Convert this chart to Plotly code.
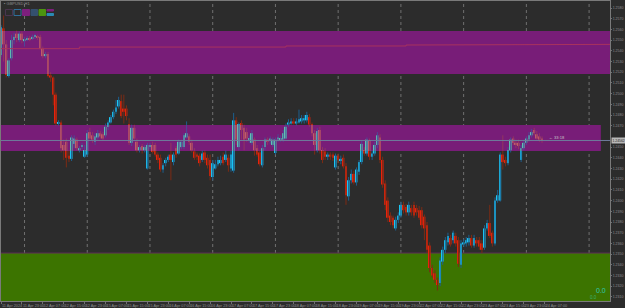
import plotly.graph_objects as go

# ---------------- data (GBPUSD H1) ----------------
opens = [1.2536,1.2561,1.2546,1.2517,1.2533,1.2550,1.2556,1.2550,1.2556,1.2549,
         1.2551,1.2552,1.2551,1.2553,1.2553,1.2553,1.2542,1.2535,1.2537,1.2517,
         1.2515,1.2499,1.2472,1.2473,1.2452,1.2455,1.2442,1.2439,1.2453,1.2457,
         1.2447,1.2450,1.2441,1.2443,1.2464,1.2461,1.2455,1.2459,1.2463,1.2462,
         1.2461,1.2469,1.2473,1.2478,1.2483,1.2488,1.2493,1.2486,1.2486,1.2471,
         1.2454,1.2468,1.2455,1.2447,1.2451,1.2447,1.2430,1.2450,1.2452,1.2452,
         1.2443,1.2440,1.2429,1.2435,1.2438,1.2443,1.2436,1.2449,1.2444,1.2450,
         1.2450,1.2459,1.2460,1.2454,1.2446,1.2443,1.2442,1.2438,1.2445,1.2440,
         1.2438,1.2422,1.2430,1.2434,1.2435,1.2441,1.2438,1.2440,1.2430,1.2428,
         1.2475,1.2450,1.2472,1.2468,1.2464,1.2457,1.2454,1.2457,1.2449,1.2445,
         1.2433,1.2450,1.2457,1.2456,1.2452,1.2445,1.2457,1.2457,1.2457,1.2458,
         1.2471,1.2472,1.2474,1.2472,1.2473,1.2474,1.2475,1.2475,1.2478,1.2471,
         1.2463,1.2447,1.2466,1.2447,1.2446,1.2441,1.2443,1.2443,1.2431,1.2442,
         1.2437,1.2440,1.2432,1.2404,1.2419,1.2425,1.2417,1.2427,1.2436,1.2447,
         1.2444,1.2456,1.2441,1.2444,1.2452,1.2459,1.2438,1.2416,1.2400,1.2386,
         1.2384,1.2374,1.2382,1.2386,1.2396,1.2394,1.2389,1.2393,1.2396,1.2393,
         1.2391,1.2391,1.2385,1.2377,1.2358,1.2337,1.2332,1.2326,1.2323,1.2343,
         1.2354,1.2361,1.2365,1.2363,1.2367,1.2363,1.2340,1.2359,1.2360,1.2361,
         1.2365,1.2358,1.2363,1.2363,1.2360,1.2356,1.2374,1.2379,1.2370,1.2360,
         1.2400,1.2400,1.2443,1.2438,1.2435,1.2447,1.2458,1.2454,1.2454,1.2438,
         1.2449,1.2454,1.2457,1.2461,1.2466,1.2462,1.2460,1.2458]
highs = [1.2564,1.2573,1.2550,1.2533,1.2555,1.2557,1.2559,1.2558,1.2558,1.2553,
         1.2554,1.2554,1.2555,1.2556,1.2555,1.2555,1.2544,1.2539,1.2539,1.2520,
         1.2516,1.2501,1.2475,1.2475,1.2457,1.2458,1.2447,1.2461,1.2461,1.2459,
         1.2451,1.2454,1.2452,1.2466,1.2468,1.2464,1.2463,1.2466,1.2465,1.2464,
         1.2472,1.2475,1.2480,1.2485,1.2494,1.2497,1.2499,1.2499,1.2489,1.2477,
         1.2471,1.2471,1.2458,1.2452,1.2453,1.2452,1.2454,1.2454,1.2455,1.2454,
         1.2445,1.2443,1.2435,1.2440,1.2443,1.2454,1.2445,1.2451,1.2457,1.2457,
         1.2463,1.2474,1.2462,1.2457,1.2449,1.2445,1.2444,1.2447,1.2447,1.2443,
         1.2443,1.2438,1.2438,1.2441,1.2442,1.2445,1.2447,1.2443,1.2447,1.2482,
         1.2478,1.2473,1.2475,1.2471,1.2468,1.2461,1.2466,1.2459,1.2452,1.2447,
         1.2452,1.2459,1.2459,1.2460,1.2459,1.2459,1.2462,1.2461,1.2466,1.2472,
         1.2476,1.2477,1.2477,1.2477,1.2485,1.2480,1.2480,1.2483,1.2481,1.2473,
         1.2466,1.2468,1.2469,1.2450,1.2449,1.2445,1.2445,1.2445,1.2444,1.2444,
         1.2442,1.2443,1.2435,1.2422,1.2429,1.2428,1.2431,1.2438,1.2456,1.2450,
         1.2459,1.2458,1.2447,1.2455,1.2464,1.2462,1.2441,1.2419,1.2403,1.2389,
         1.2386,1.2385,1.2389,1.2399,1.2399,1.2397,1.2399,1.2396,1.2399,1.2396,
         1.2395,1.2394,1.2387,1.2380,1.2361,1.2340,1.2335,1.2328,1.2347,1.2357,
         1.2366,1.2370,1.2368,1.2372,1.2370,1.2366,1.2363,1.2364,1.2366,1.2368,
         1.2368,1.2368,1.2366,1.2366,1.2363,1.2377,1.2382,1.2396,1.2372,1.2403,
         1.2410,1.2445,1.2461,1.2441,1.2450,1.2459,1.2460,1.2457,1.2457,1.2452,
         1.2457,1.2460,1.2464,1.2467,1.2468,1.2465,1.2463,1.2460]
lows = [1.2534,1.2530,1.2515,1.2515,1.2531,1.2546,1.2548,1.2548,1.2547,1.2544,
        1.2549,1.2549,1.2550,1.2551,1.2550,1.2541,1.2533,1.2533,1.2515,1.2511,
        1.2489,1.2470,1.2470,1.2445,1.2438,1.2431,1.2436,1.2437,1.2449,1.2447,
        1.2445,1.2448,1.2440,1.2441,1.2457,1.2454,1.2452,1.2457,1.2458,1.2456,
        1.2459,1.2466,1.2472,1.2476,1.2481,1.2486,1.2477,1.2472,1.2475,1.2452,
        1.2451,1.2457,1.2445,1.2445,1.2444,1.2445,1.2429,1.2448,1.2444,1.2441,
        1.2435,1.2427,1.2426,1.2432,1.2436,1.2419,1.2433,1.2440,1.2443,1.2448,
        1.2448,1.2458,1.2452,1.2445,1.2438,1.2438,1.2432,1.2436,1.2435,1.2430,
        1.2419,1.2419,1.2429,1.2432,1.2433,1.2433,1.2436,1.2427,1.2427,1.2426,
        1.2452,1.2447,1.2457,1.2447,1.2455,1.2454,1.2452,1.2442,1.2441,1.2432,
        1.2431,1.2447,1.2452,1.2453,1.2450,1.2443,1.2455,1.2455,1.2455,1.2457,
        1.2469,1.2471,1.2471,1.2470,1.2472,1.2472,1.2472,1.2473,1.2469,1.2460,
        1.2443,1.2445,1.2444,1.2435,1.2438,1.2438,1.2438,1.2437,1.2429,1.2435,
        1.2434,1.2430,1.2396,1.2400,1.2416,1.2415,1.2414,1.2424,1.2434,1.2442,
        1.2442,1.2438,1.2438,1.2442,1.2449,1.2435,1.2412,1.2391,1.2380,1.2377,
        1.2374,1.2372,1.2379,1.2384,1.2388,1.2386,1.2386,1.2386,1.2384,1.2386,
        1.2382,1.2374,1.2363,1.2351,1.2333,1.2328,1.2323,1.2316,1.2320,1.2340,
        1.2351,1.2358,1.2357,1.2360,1.2357,1.2338,1.2337,1.2357,1.2357,1.2358,
        1.2356,1.2356,1.2357,1.2354,1.2351,1.2354,1.2372,1.2365,1.2357,1.2358,
        1.2398,1.2399,1.2429,1.2432,1.2433,1.2445,1.2452,1.2449,1.2448,1.2436,
        1.2447,1.2452,1.2455,1.2459,1.2461,1.2457,1.2455,1.2454]
closes = [1.2562,1.2546,1.2518,1.2531,1.2550,1.2553,1.2552,1.2556,1.2550,1.2551,
          1.2552,1.2551,1.2553,1.2554,1.2552,1.2542,1.2535,1.2537,1.2517,1.2515,
          1.2499,1.2472,1.2473,1.2449,1.2447,1.2440,1.2439,1.2459,1.2458,1.2449,
          1.2449,1.2452,1.2447,1.2463,1.2458,1.2457,1.2460,1.2463,1.2460,1.2458,
          1.2469,1.2473,1.2478,1.2483,1.2487,1.2494,1.2479,1.2483,1.2479,1.2454,
          1.2468,1.2458,1.2447,1.2450,1.2447,1.2450,1.2452,1.2452,1.2446,1.2443,
          1.2438,1.2429,1.2433,1.2438,1.2441,1.2438,1.2443,1.2443,1.2455,1.2455,
          1.2461,1.2463,1.2455,1.2447,1.2440,1.2441,1.2435,1.2444,1.2438,1.2433,
          1.2423,1.2435,1.2434,1.2438,1.2438,1.2435,1.2443,1.2433,1.2443,1.2475,
          1.2457,1.2471,1.2466,1.2457,1.2458,1.2458,1.2463,1.2447,1.2443,1.2434,
          1.2449,1.2457,1.2455,1.2458,1.2457,1.2457,1.2459,1.2458,1.2463,1.2469,
          1.2473,1.2474,1.2472,1.2474,1.2476,1.2477,1.2477,1.2480,1.2471,1.2463,
          1.2452,1.2465,1.2447,1.2438,1.2441,1.2443,1.2441,1.2440,1.2442,1.2438,
          1.2439,1.2432,1.2405,1.2419,1.2425,1.2417,1.2429,1.2436,1.2453,1.2444,
          1.2457,1.2441,1.2444,1.2452,1.2461,1.2438,1.2415,1.2396,1.2384,1.2380,
          1.2377,1.2382,1.2386,1.2396,1.2391,1.2389,1.2396,1.2389,1.2386,1.2389,
          1.2384,1.2377,1.2374,1.2354,1.2337,1.2330,1.2326,1.2321,1.2344,1.2354,
          1.2363,1.2367,1.2359,1.2370,1.2360,1.2341,1.2360,1.2361,1.2363,1.2365,
          1.2358,1.2365,1.2360,1.2357,1.2354,1.2374,1.2379,1.2367,1.2360,1.2400,
          1.2405,1.2443,1.2436,1.2435,1.2447,1.2457,1.2454,1.2452,1.2451,1.2449,
          1.2454,1.2458,1.2461,1.2464,1.2463,1.2458,1.2457,1.2456]

time_tick_slots = [0, 8, 16, 24, 32, 40, 48, 56, 64, 72, 80, 88, 96, 104, 112,
                   120, 128, 136, 144, 152, 160, 168, 176, 184, 192, 200, 208]
time_tick_labels = ["11 Apr 2024", "11 Apr 23:00", "12 Apr 07:00", "12 Apr 15:00",
                    "12 Apr 23:00", "15 Apr 07:00", "15 Apr 15:00", "15 Apr 23:00",
                    "16 Apr 07:00", "16 Apr 15:00", "16 Apr 23:00", "17 Apr 07:00",
                    "17 Apr 15:00", "17 Apr 23:00", "18 Apr 07:00", "18 Apr 15:00",
                    "18 Apr 23:00", "19 Apr 07:00", "19 Apr 15:00", "19 Apr 23:00",
                    "22 Apr 07:00", "22 Apr 15:00", "22 Apr 23:00", "23 Apr 07:00",
                    "23 Apr 15:00", "23 Apr 23:00", "24 Apr 07:00"]
day_start_slots = [9, 33, 57, 81, 105, 129, 153, 177, 201, 225]
price_ticks = [1.2310, 1.2320, 1.2330, 1.2340, 1.2350, 1.2360, 1.2370, 1.2380,
               1.2390, 1.2400, 1.2410, 1.2420, 1.2430, 1.2440, 1.2450,
               1.2470, 1.2480, 1.2490, 1.2500, 1.2510, 1.2520, 1.2530, 1.2540,
               1.2550, 1.2560, 1.2570, 1.2580]
price_tick_labels = ["%.4f" % p for p in price_ticks]

supply_zone_top = (1.25183, 1.25585)
supply_zone_mid = (1.24464, 1.24707)
demand_zone = (1.23061, 1.23510)
mid_zone_end_slot = 229.5
level_slots = [0, 30, 30, 109, 109, 155, 155, 202, 202, 233]
level_prices = [1.25420, 1.25420, 1.25435, 1.25435, 1.25445, 1.25445,
                1.25454, 1.25454, 1.25460, 1.25460]
bid_price = 1.24562

# ---------------- styling ----------------
BG = "#2c2c2c"
BULL, BULL_IN = "#1cc6f2", "#5ec2b2"
BEAR, BEAR_IN = "#e8220c", "#c05a6c"
BULL_WICK, BULL_WICK_IN = "#1d5f8e", "#4d4a96"
BEAR_WICK, BEAR_WICK_IN = "#7d2b14", "#923660"
PURPLE = "#781d78"
GREEN = "#3c7400"
GRID = "#707070"
TXT = "#8c8c8c"
FONT = "Liberation Sans"

X_MIN, X_MAX = 0.0, 233.0
Y_MIN, Y_MAX = 1.230617, 1.258654

purple_zones = [supply_zone_top, supply_zone_mid]


def split(lo, hi):
    pts = [lo, hi] + [z for zn in purple_zones for z in zn if lo < z < hi]
    pts = sorted(set(pts))
    segs = []
    for a, b in zip(pts[:-1], pts[1:]):
        m = (a + b) / 2
        inside = any(z0 <= m <= z1 for z0, z1 in purple_zones)
        segs.append((a, b, inside))
    return segs


bodies = {k: ([], [], []) for k in ("bo", "bi", "ro", "ri")}
wicks = {k: ([], []) for k in ("bo", "bi", "ro", "ri")}
for i, (o, h, l, c) in enumerate(zip(opens, highs, lows, closes)):
    bull = c >= o
    key = "b" if bull else "r"
    for a, b, ins in split(l, h):
        xs, ys = wicks[key + ("i" if ins else "o")]
        xs += [i, i, None]
        ys += [a, b, None]
    lo, hi = min(o, c), max(o, c)
    if hi - lo < 0.00008:
        hi = lo + 0.00008
    for a, b, ins in split(lo, hi):
        xs, bs, hs = bodies[key + ("i" if ins else "o")]
        xs.append(i)
        bs.append(a)
        hs.append(b - a)

fig = go.Figure()

wick_colors = {"bo": BULL_WICK, "bi": BULL_WICK_IN, "ro": BEAR_WICK, "ri": BEAR_WICK_IN}
for k, (xs, ys) in wicks.items():
    fig.add_trace(go.Scatter(x=xs, y=ys, mode="lines",
                             line=dict(color=wick_colors[k], width=1),
                             hoverinfo="skip", showlegend=False))

body_colors = {"bo": BULL, "bi": BULL_IN, "ro": BEAR, "ri": BEAR_IN}
for k, (xs, bs, hs) in bodies.items():
    fig.add_trace(go.Bar(x=xs, y=hs, base=bs, width=0.72,
                         marker=dict(color=body_colors[k], line=dict(width=0)),
                         hoverinfo="skip", showlegend=False))

# stepped level line inside top zone
fig.add_trace(go.Scatter(x=level_slots, y=level_prices, mode="lines",
                         line=dict(color="#a8325e", width=1),
                         hoverinfo="skip", showlegend=False))
# bid line
fig.add_trace(go.Scatter(x=[X_MIN, X_MAX], y=[bid_price, bid_price], mode="lines",
                         line=dict(color="#6f7c9c", width=1),
                         hoverinfo="skip", showlegend=False))

shapes = [
    dict(type="rect", xref="x", yref="y", x0=X_MIN - 1, x1=X_MAX + 1,
         y0=supply_zone_top[0], y1=supply_zone_top[1],
         fillcolor=PURPLE, line=dict(width=0), layer="below"),
    dict(type="rect", xref="x", yref="y", x0=X_MIN - 1, x1=mid_zone_end_slot,
         y0=supply_zone_mid[0], y1=supply_zone_mid[1],
         fillcolor=PURPLE, line=dict(width=0), layer="below"),
    dict(type="rect", xref="x", yref="y", x0=X_MIN - 1, x1=X_MAX + 1,
         y0=demand_zone[0], y1=demand_zone[1],
         fillcolor=GREEN, line=dict(width=0), layer="below"),
    dict(type="line", xref="x", yref="y", x0=X_MIN - 1, x1=X_MAX + 1,
         y0=demand_zone[1], y1=demand_zone[1],
         line=dict(color="#5e2c58", width=1), layer="below"),
]
for s in day_start_slots:
    shapes.append(dict(type="line", xref="x", yref="paper", x0=s, x1=s, y0=0, y1=1,
                       line=dict(color=GRID, width=1, dash="dot"), layer="below"))

# top-left indicator buttons (decorative)
def px_rect(x0, x1, y0, y1, fill, border):
    return dict(type="rect", xref="paper", yref="paper",
                x0=(x0 - 1) / 609, x1=(x1 - 1) / 609,
                y0=(301 - y1) / 300, y1=(301 - y0) / 300,
                fillcolor=fill, line=dict(color=border, width=1), layer="above")

shapes += [
    px_rect(5.5, 12.5, 9.5, 15.5, BG, "#4a3550"),
    px_rect(14, 21, 9.5, 15.5, BG, "#2f6f9a"),
    px_rect(22.5, 29.5, 9.5, 15.5, "#7d1f7d", "#7d1f7d"),
    px_rect(31, 37.5, 9.5, 15.5, "#34506e", "#34506e"),
    px_rect(39, 45.5, 9.5, 15.5, "#4c9410", "#4c9410"),
    px_rect(47, 53.5, 9.5, 11, "#7d1f7d", "#7d1f7d"),
    px_rect(47, 53.5, 13.5, 15.5, "#2a8ab4", "#2a8ab4"),
]

annotations = [
    dict(xref="paper", yref="y", x=1, y=bid_price, xanchor="left", yanchor="middle",
         xshift=0.5, text="1.24562", showarrow=False, bgcolor="#b8b8b8",
         font=dict(family=FONT, size=3.4, color="#1e1e1e"), borderpad=0.5),
    dict(xref="paper", yref="paper", x=(2 - 1) / 609, y=(301 - 3.5) / 300,
         xanchor="left", yanchor="middle", text="▪ GBPUSD,H1", showarrow=False,
         font=dict(family=FONT, size=4, color=TXT)),
    dict(xref="x", yref="y", x=209, y=1.24594, xanchor="left", yanchor="middle",
         text="← 33:18", showarrow=False,
         font=dict(family=FONT, size=4, color="#c8c8c8")),
    dict(xref="paper", yref="paper", x=(608 - 1) / 609, y=(301 - 290.5) / 300,
         xanchor="right", yanchor="middle", text="0.0", showarrow=False,
         font=dict(family=FONT, size=7, color="#2ec8b0")),
    dict(xref="paper", yref="paper", x=(599 - 1) / 609, y=(301 - 297) / 300,
         xanchor="right", yanchor="middle", text="0.0", showarrow=False,
         font=dict(family=FONT, size=4.5, color="#38b070")),
]

fig.update_layout(
    width=625, height=308, autosize=False,
    margin=dict(l=1, r=15, t=1, b=7, pad=0),
    paper_bgcolor=BG, plot_bgcolor=BG,
    barmode="overlay", showlegend=False,
    shapes=shapes, annotations=annotations,
    font=dict(family=FONT, size=4.5, color=TXT),
    xaxis=dict(range=[X_MIN, X_MAX], showgrid=False, zeroline=False,
               tickmode="array", tickvals=time_tick_slots, ticktext=time_tick_labels,
               ticks="outside", ticklen=2, tickcolor="#707070", tickangle=0,
               ticklabelposition="outside right", automargin=False,
               tickfont=dict(family=FONT, size=3.8, color=TXT),
               showline=True, linecolor="#7a7a7a", linewidth=1, mirror=True),
    yaxis=dict(range=[Y_MIN, Y_MAX], side="right", showgrid=False, zeroline=False,
               tickmode="array", tickvals=price_ticks, ticktext=price_tick_labels,
               ticks="outside", ticklen=1, tickcolor="#707070", automargin=False,
               ticklabelstandoff=0,
               tickfont=dict(family=FONT, size=3.5, color=TXT),
               showline=True, linecolor="#7a7a7a", linewidth=1, mirror=True),
)

fig.write_html("out.html")
